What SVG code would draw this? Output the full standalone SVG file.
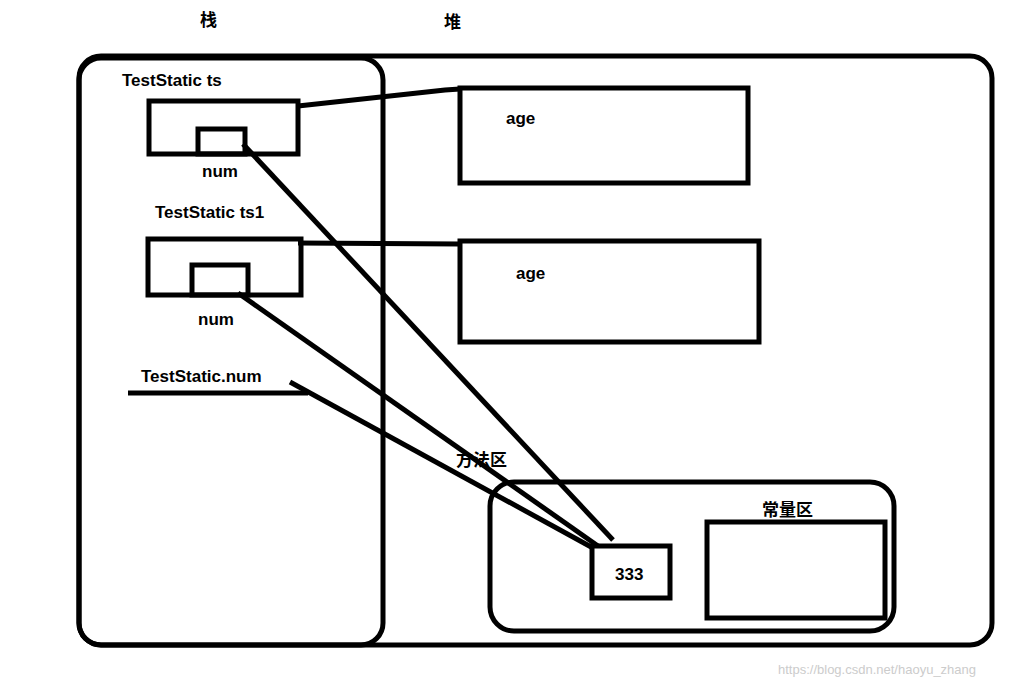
<svg xmlns="http://www.w3.org/2000/svg" width="1027" height="687" viewBox="0 0 1027 687">
<style>
.b{fill:none;stroke:#000;stroke-width:5}
.t{font-family:"Liberation Sans","Noto Sans CJK SC",sans-serif;font-weight:bold;font-size:17px;fill:#000}
.c{stroke:#000;stroke-width:5;fill:none}
</style>
<rect width="1027" height="687" fill="#fff"/>
<text class="t" x="200" y="26">栈</text>
<text class="t" x="444" y="28">堆</text>
<g id="heap"><rect class="b" x="79" y="56" width="913" height="589" rx="22"/></g>
<g id="stack"><rect class="b" x="79" y="58" width="304" height="587" rx="22"/></g>
<g id="ts">
<text class="t" x="122" y="86">TestStatic  ts</text>
<rect class="b" x="149" y="101" width="149" height="53"/>
<rect class="b" x="198" y="129" width="47" height="25"/>
<text class="t" x="202" y="177">num</text>
</g>
<g id="ts1">
<text class="t" x="155" y="218">TestStatic  ts1</text>
<rect class="b" x="148" y="239" width="153" height="56"/>
<rect class="b" x="192" y="265" width="56" height="30"/>
<text class="t" x="198" y="325">num</text>
</g>
<g id="staticnum">
<text class="t" x="141" y="382">TestStatic.num</text>
<line class="c" x1="128" y1="393" x2="308" y2="393"/>
</g>
<g id="age1"><rect class="b" x="460" y="88" width="288" height="95"/><text class="t" x="506" y="124">age</text></g>
<g id="age2"><rect class="b" x="460" y="241" width="299" height="101"/><text class="t" x="516" y="279">age</text></g>
<g id="method">
<text class="t" x="456" y="466">方法区</text>
<rect class="b" x="490" y="482" width="404" height="149" rx="24"/>
</g>
<g id="const">
<text class="t" x="762" y="516">常量区</text>
<rect class="b" x="707" y="522" width="178" height="96"/>
</g>
<g id="v333"><rect class="b" x="592" y="546" width="78" height="52"/><text class="t" x="615" y="580">333</text></g>
<g id="connectors">
<polyline class="c" points="298,106 445,90 460,89"/>
<line class="c" x1="298" y1="243" x2="460" y2="244"/>
<line class="c" x1="243" y1="144" x2="613" y2="540"/>
<line class="c" x1="238" y1="293" x2="598" y2="546"/>
<line class="c" x1="290" y1="382" x2="593" y2="548"/>
</g>
<text x="778" y="674" font-family="Liberation Sans,sans-serif" font-size="13" fill="#ccc">https://blog.csdn.net/haoyu_zhang</text>
</svg>
